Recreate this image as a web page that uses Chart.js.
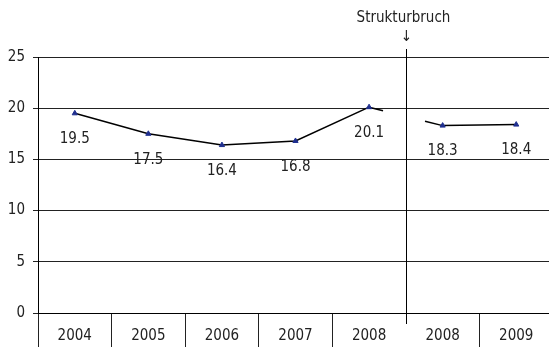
<!DOCTYPE html>
<html>
<head>
<meta charset="utf-8">
<script src="https://cdn.jsdelivr.net/npm/chart.js@4/dist/chart.umd.min.js"></script>
<style>
  html, body { margin: 0; padding: 0; background: #fff; overflow: hidden; }
  #wrap { width: 549px; height: 347px; overflow: hidden; }
</style>
</head>
<body>
<div id="wrap"><canvas id="myChart" width="558" height="347"></canvas></div>
<script>
// years (2008 appears twice: before and after the structural break)
const years = ['2004', '2005', '2006', '2007', '2008', '2008', '2009'];
const values = [19.5, 17.5, 16.4, 16.8, 20.1, 18.3, 18.4];
const yTicks = [0, 5, 10, 15, 20, 25];
const breakAfter = 4; // break sits between index 4 and 5
const breakLabel = 'Strukturbruch';

const FONT = "'Liberation Sans Narrow', 'DejaVu Sans Condensed', sans-serif";

// white gap in the connecting segment around the break
function gapDash(ctx) {
  if (ctx.p0DataIndex !== breakAfter) return undefined;
  const dx = ctx.p1.x - ctx.p0.x, dy = ctx.p1.y - ctx.p0.y;
  const len = Math.sqrt(dx * dx + dy * dy);
  return [len * 0.19, len * 0.57, len];
}

const breakPlugin = {
  id: 'breakLine',
  afterDatasetsDraw(chart) {
    const c = chart.ctx;
    const x = chart.scales.x;
    const y = chart.scales.y;
    const px = Math.round((x.getPixelForValue(breakAfter) + x.getPixelForValue(breakAfter + 1)) / 2) + 0.5;
    c.save();
    c.strokeStyle = '#000';
    c.lineWidth = 1;
    c.beginPath();
    c.moveTo(px, y.top - 8);
    c.lineTo(px, y.bottom + 11);
    c.stroke();
    c.fillStyle = '#222';
    c.textAlign = 'center';
    c.textBaseline = 'middle';
    c.font = '15px ' + FONT;
    c.fillText(breakLabel, px - 3, 18);
    c.fillText('\u2193', px, 37);
    c.restore();
  }
};

const labelPlugin = {
  id: 'valueLabels',
  afterDatasetsDraw(chart) {
    const c = chart.ctx;
    const meta = chart.getDatasetMeta(0);
    c.save();
    c.fillStyle = '#222';
    c.textAlign = 'center';
    c.textBaseline = 'middle';
    c.font = '15px ' + FONT;
    meta.data.forEach((pt, i) => {
      c.fillText(values[i].toFixed(1), pt.x, pt.y + 26);
    });
    c.restore();
  }
};

new Chart(document.getElementById('myChart'), {
  type: 'line',
  data: {
    labels: years,
    datasets: [{
      data: values,
      borderColor: '#000',
      borderWidth: 1.5,
      pointStyle: 'triangle',
      pointRadius: 3,
      pointBackgroundColor: '#1f2f8f',
      pointBorderColor: '#1f2f8f',
      pointBorderWidth: 1,
      tension: 0,
      segment: { borderDash: gapDash }
    }]
  },
  options: {
    responsive: false,
    animation: false,
    layout: { padding: { top: 57, left: 0, right: 0, bottom: 0 } },
    plugins: { legend: { display: false }, tooltip: { enabled: false } },
    scales: {
      x: {
        offset: true,
        grid: {
          offset: true,
          drawOnChartArea: false,
          tickLength: 36,
          // no full separator at the break, the break line replaces it
          color: (ctx) => ctx.index === breakAfter + 1 ? 'rgba(0,0,0,0)' : '#222'
        },
        border: { color: '#000' },
        ticks: { padding: -22, color: '#222', font: { family: FONT, size: 15 }, maxRotation: 0, autoSkip: false },
        afterFit: (axis) => { axis.height = 34; axis.paddingLeft = 0; axis.paddingRight = 0; }
      },
      y: {
        min: 0,
        max: 25,
        afterBuildTicks: (axis) => { axis.ticks = yTicks.map(v => ({ value: v })); },
        grid: { color: '#222', tickLength: 5 },
        border: { color: '#000' },
        ticks: { padding: 8, color: '#222', font: { family: FONT, size: 15 } },
        afterFit: (axis) => { axis.width = 38; axis.paddingTop = 0; axis.paddingBottom = 0; }
      }
    }
  },
  plugins: [breakPlugin, labelPlugin]
});
</script>
</body>
</html>
